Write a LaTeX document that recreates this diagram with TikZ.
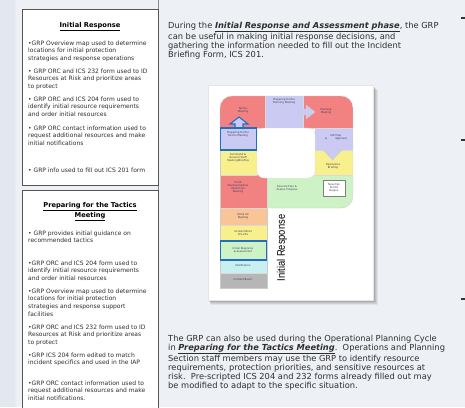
\documentclass[tikz,border=0pt]{standalone}
\usepackage{fontspec}
\setmainfont{DejaVu Sans}
\newfontfamily\narrowfont{Liberation Sans}
\definecolor{bg}{HTML}{EDF0F5}
\definecolor{strip}{HTML}{E2E7F0}
\definecolor{txt}{HTML}{2E2E2E}
\definecolor{boxline}{HTML}{555555}
\definecolor{pred}{HTML}{F28282}
\definecolor{plav}{HTML}{CACAF2}
\definecolor{pyel}{HTML}{F8F08C}
\definecolor{pgrn}{HTML}{CDF2C6}
\definecolor{pora}{HTML}{F9C596}
\definecolor{pcyan}{HTML}{C8F0F0}
\definecolor{pgray}{HTML}{B6B6B6}
\definecolor{pblue}{HTML}{1F6FC5}
\definecolor{plbl}{HTML}{3A3A5A}
\tikzset{
  bodytext/.style={font=\fontsize{6}{7.6}\selectfont, text=txt, align=left, anchor=north west, inner sep=0pt},
  titletext/.style={font=\fontsize{6.7}{10}\selectfont\bfseries, text=black, align=center, anchor=north, inner sep=0pt},
  maintext/.style={font=\fontsize{8.3}{9}\selectfont, text=txt, align=left, anchor=north west, inner sep=0pt},
  blk/.style={draw=white!70!gray, line width=0.3pt},
  blabel/.style={font=\fontsize{2.6}{3.1}\selectfont, text=plbl, align=center, inner sep=0pt},
  infobox/.style={draw=boxline, line width=0.8pt, fill=white},
  tick/.style={draw=black!80, line width=1.2pt}
}
\begin{document}
\begin{tikzpicture}[x=1pt,y=-1pt]
\useasboundingbox (0,0) rectangle (465,407);
% backgrounds
\fill[bg] (0,0) rectangle (465,407);
\fill[strip] (0,0) rectangle (15,407);
\draw[white!85!gray, line width=0.5pt] (15,0) -- (15,407);
\draw[boxline!70, line width=0.8pt] (158,0) -- (158,407);

% left info boxes
\draw[infobox] (22,9) rectangle (158,185);
\fill[white] (22,190) rectangle (158,407);
\draw[boxline, line width=0.8pt] (22,408) -- (22,190) -- (158,190) -- (158,408);

\node[titletext] (t1) at (90,21.9) {\underline{Initial Response}};
\node[bodytext] (b11) at (28,40.5) {•GRP Overview map used to determine\\locations for initial protection\\strategies and response operations};
\node[bodytext] (b12) at (28,68.5) {• GRP ORC and ICS 232 form used to ID\\Resources at Risk and prioritize areas\\to protect};
\node[bodytext] (b13) at (28,96.5) {• GRP ORC and ICS 204 form used to\\identify initial resource requirements\\and order initial resources};
\node[bodytext] (b14) at (28,125.5) {• GRP ORC contact information used to\\request additional resources and make\\initial notifications};
\node[bodytext] (b15) at (28,167.5) {• GRP info used to fill out ICS 201 form};

\node[titletext] (t2) at (90,201.9) {\underline{Preparing for the Tactics}\\\underline{Meeting}};
\node[bodytext] (b21) at (28,230.5) {• GRP provides initial guidance on\\recommended tactics};
\node[bodytext] (b22) at (28,260.5) {•GRP ORC and ICS 204 form used to\\identify initial resource requirements\\and order initial resources};
\node[bodytext] (b23) at (28,288.5) {•GRP Overview map used to determine\\locations for initial protection\\strategies and response support\\facilities};
\node[bodytext] (b24) at (28,324.5) {•GRP ORC and ICS 232 form used to ID\\Resources at Risk and prioritize areas\\to protect};
\node[bodytext] (b25) at (28,352.5) {•GRP ICS 204 form edited to match\\incident specifics and used in the IAP};
\node[bodytext] (b26) at (28,380.5) {•GRP ORC contact information used to\\request additional resources and make\\initial notifications.};

% right texts
\node[maintext] (m1) at (168,21.9) {During the \underline{\textbf{\textit{Initial Response and Assessment phase}}}, the GRP\\can be useful in making initial response decisions, and\\gathering the information needed to fill out the Incident\\Briefing Form, ICS 201.};
\node[maintext] (m2) at (168,334.9) {The GRP can also be used during the Operational Planning Cycle\\in \underline{\textbf{\textit{Preparing for the Tactics Meeting}}}.\ \ Operations and Planning\\Section staff members may use the GRP to identify resource\\requirements, protection priorities, and sensitive resources at\\risk.\ \ Pre-scripted ICS 204 and 232 forms already filled out may\\be modified to adapt to the specific situation.};

% right edge ticks
\draw[tick] (461,18) -- (465,18);
\draw[tick] (461,140) -- (465,140);
\draw[tick] (461,299) -- (465,299);

% card with shadow
\foreach \o/\a in {5/0.06,4/0.07,3/0.08,2/0.1,1/0.12}{
  \fill[black, opacity=\a] (208+\o*0.6,85+\o) rectangle (373+\o,300+\o);
}
\fill[white] (208,85) rectangle (373,300);
\draw[white!80!gray, line width=0.4pt] (208,85) rectangle (373,300);

% P shape blocks
\begin{scope}
\path[clip] [rounded corners=12pt] (220,96) rectangle (353,208) [sharp corners] (220,190) rectangle (267,288);
\fill[pred] (220,96) rectangle (265,128);
\fill[plav] (265,96) rectangle (303,128);
\fill[pred] (303,96) rectangle (353,128);
\fill[plav] (220,128) rectangle (257,150);
\fill[pyel] (220,150) rectangle (257,175);
\fill[pred] (220,175) rectangle (267,208);
\fill[plav] (315,128) rectangle (353,150);
\fill[pyel] (315,150) rectangle (353,175);
\fill[pgrn] (267,175) rectangle (353,208);
\fill[pora] (220,208) rectangle (267,225);
\fill[pyel] (220,225) rectangle (267,241);
\fill[pgrn] (220,241) rectangle (267,260);
\fill[pcyan] (220,260) rectangle (267,273);
\fill[pgray] (220,273) rectangle (267,288);
% separators
\draw[blk] (265,96) -- (265,128) (303,96) -- (303,128) (220,128) -- (353,128)
  (220,150) -- (257,150) (220,175) -- (257,175) (267,175) -- (267,288)
  (315,150) -- (353,150) (315,175) -- (353,175)
  (220,208) -- (353,208) (220,225) -- (267,225) (220,241) -- (267,241)
  (220,260) -- (267,260) (220,273) -- (267,273);
\end{scope}
\draw[white!60!gray, line width=0.4pt, rounded corners=12pt] (267,208) -- (353,208) -- (353,96) -- (220,96) -- (220,150);
\draw[white!60!gray, line width=0.4pt] (220,140) -- (220,288) -- (267,288) -- (267,208);
% hole
\fill[white, draw=white!75!gray, line width=0.4pt, rounded corners=7pt] (257,128) rectangle (315,178);
% new ops box
\node[draw=gray, fill=white, line width=0.4pt, minimum width=22pt, minimum height=16pt, inner sep=0pt, blabel] (nops) at (334,188) {New Ops\\Period\\Begins};

% arrows in P
\draw[white!60!gray, fill=plav, line width=0.4pt] (298,109) -- (306,109) -- (306,105) -- (315,112) -- (306,119) -- (306,115) -- (298,115);
\draw[white!60!gray, fill=plav, line width=0.4pt] (328,143) -- (328,150) -- (323,150) -- (332.5,160) -- (342,150) -- (337,150) -- (337,143);
\draw[pblue, fill=plav, line width=1.1pt] (235,129) -- (235,124) -- (230,124) -- (239,117) -- (248,124) -- (243,124) -- (243,129);
\draw[pblue, line width=1.1pt] (220.6,128) rectangle (256.5,150);
\draw[pblue, line width=1.1pt] (220.6,241) rectangle (266.4,260);

% labels
\node[blabel] (l1) at (243,110) {Tactics\\Meeting};
\node[blabel] (l2) at (284,101) {Preparing for the\\Planning Meeting};
\node[blabel] (l3) at (326,111) {Planning\\Meeting};
\node[blabel] (l4) at (238,134) {Preparing for the\\Tactics Meeting};
\node[blabel] (l5) at (238,158) {Command \&\\General Staff\\Meeting/Briefing};
\node[blabel] (l6) at (238,187) {IC/UC\\Develop/Update\\Objectives\\Meeting};
\node[blabel] (l7) at (336,137) {IAP Prep\\\&\hspace{8pt}Approval};
\node[blabel] (l8) at (333,166) {Operations\\Briefing};
\node[blabel] (l9) at (287,188) {Execute Plan \&\\Assess Progress};
\node[blabel] (l10) at (243,216) {Initial UC\\Meeting};
\node[blabel] (l11) at (243,233) {Incident Brief\\ICS-201};
\node[blabel] (l12) at (243,250) {Initial Response\\\& Assessment};
\node[blabel] (l13) at (243,266) {Notification};
\node[blabel] (l14) at (243,280) {Incident/Event};

\node[rotate=90, inner sep=0pt, font=\narrowfont\fontsize{11}{12}\selectfont] (ir) at (282,248) {\scalebox{0.85}[1]{Initial Response}};
\end{tikzpicture}
\end{document}
